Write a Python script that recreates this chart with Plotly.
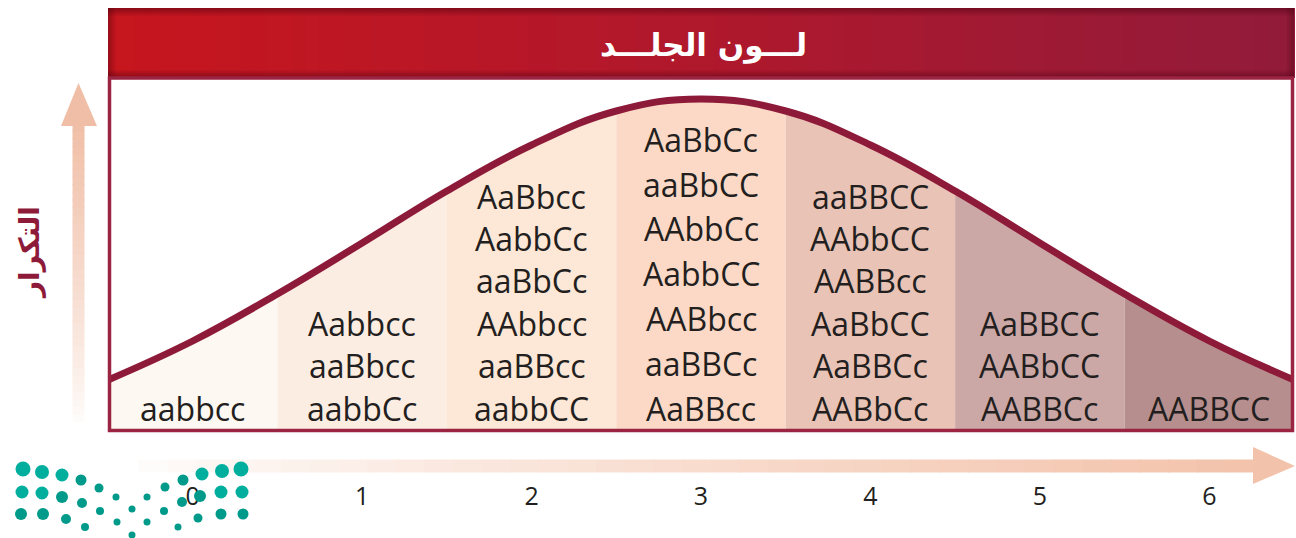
import plotly.graph_objects as go

# data
categories = [0, 1, 2, 3, 4, 5, 6]
genotypes = [
    ["aabbcc"],
    ["Aabbcc", "aaBbcc", "aabbCc"],
    ["AaBbcc", "AabbCc", "aaBbCc", "AAbbcc", "aaBBcc", "aabbCC"],
    ["AaBbCc", "aaBbCC", "AAbbCc", "AabbCC", "AABbcc", "aaBBCc", "AaBBcc"],
    ["aaBBCC", "AAbbCC", "AABBcc", "AaBbCC", "AaBBCc", "AABbCc"],
    ["AaBBCC", "AABbCC", "AABBCc"],
    ["AABBCC"],
]
curve_x = [-0.5, 0, 0.5, 1, 1.5, 2, 2.5, 3, 3.5, 4, 4.5, 5, 5.5, 6, 6.5]
curve_y = [52, 91, 138, 189, 241, 287, 321, 333, 321, 287, 241, 189, 138, 91, 52]
column_colors = ["#FDF8F1", "#FCEDE3", "#FDE7D6", "#FBD9C6", "#E9C3B5", "#CBA7A6", "#B68E8D"]
title_text = "لـــون الجلـــد"
ylabel_text = "التكرار"

W, H = 1296, 538
L, R, T, B = 108, 1294, 78, 432
MAROON = "#8E1A3A"


def px(x):
    return (x - L) / (R - L)


def py(y):
    return (B - y) / (B - T)


def mix(c1, c2, t):
    return "rgb(%d,%d,%d)" % tuple(round(a + (b - a) * t) for a, b in zip(c1, c2))


fig = go.Figure()

# column fills under the curve
for i in categories:
    seg_x = curve_x[2 * i:2 * i + 3]
    seg_y = curve_y[2 * i:2 * i + 3]
    fig.add_trace(go.Scatter(x=seg_x, y=seg_y, mode="lines", line=dict(width=0, shape="spline"),
                             fill="tozeroy", fillcolor=column_colors[i], hoverinfo="skip", showlegend=False))

fig.add_trace(go.Scatter(x=curve_x, y=curve_y, mode="lines",
                         line=dict(color=MAROON, width=7, shape="spline", smoothing=1.2),
                         hoverinfo="skip", showlegend=False))

# genotype labels
annotations = []
for i, col in enumerate(genotypes):
    gap = 44.8 if len(col) > 6 else 42.4
    for k, g in enumerate(reversed(col)):
        annotations.append(dict(x=i, y=24 + k * gap, xref="x", yref="y", text=g, showarrow=False,
                                font=dict(family="Open Sans", size=32, color="#231F20"),
                                xanchor="center", yanchor="middle"))

shapes = []

# header banner with gradient
n = 90
left_c, mid_c, right_c = (198, 22, 30), (176, 24, 44), (146, 27, 58)
for j in range(n):
    t = j / (n - 1)
    c = mix(left_c, mid_c, t * 2) if t < 0.5 else mix(mid_c, right_c, (t - 0.5) * 2)
    x0 = L + (R - L) * j / n
    x1 = L + (R - L) * (j + 1) / n + 1
    shapes.append(dict(type="rect", xref="paper", yref="paper", x0=px(x0), x1=px(x1),
                       y0=py(78), y1=py(8), fillcolor=c, line=dict(width=0), layer="above"))
for k in range(8):
    a = 0.45 * (1 - k / 8)
    shapes.append(dict(type="rect", xref="paper", yref="paper", x0=px(L), x1=px(R),
                       y0=py(8 + k + 1), y1=py(8 + k), fillcolor="rgba(70,0,15,%.2f)" % a,
                       line=dict(width=0), layer="above"))
    shapes.append(dict(type="rect", xref="paper", yref="paper", x0=px(L), x1=px(R),
                       y0=py(78 - k), y1=py(78 - k - 1), fillcolor="rgba(70,0,15,%.2f)" % a,
                       line=dict(width=0), layer="above"))
    shapes.append(dict(type="rect", xref="paper", yref="paper", x0=px(L + k), x1=px(L + k + 1),
                       y0=py(78), y1=py(8), fillcolor="rgba(70,0,15,%.2f)" % (a * 0.8),
                       line=dict(width=0), layer="above"))
    shapes.append(dict(type="rect", xref="paper", yref="paper", x0=px(R - k - 1), x1=px(R - k),
                       y0=py(78), y1=py(8), fillcolor="rgba(70,0,15,%.2f)" % (a * 0.8),
                       line=dict(width=0), layer="above"))

# box border
shapes.append(dict(type="rect", xref="paper", yref="paper", x0=px(L + 1.5), x1=px(R - 1.5),
                   y0=py(B - 1.5), y1=py(T), line=dict(color="#9B2443", width=3.5), layer="above"))

# y arrow (fading shaft + head)
arrow_c = (240, 190, 166)
n = 40
for j in range(n):
    y0 = 430 - (430 - 124) * j / n
    y1 = 430 - (430 - 124) * (j + 1) / n - 1
    shapes.append(dict(type="rect", xref="paper", yref="paper", x0=px(72.5), x1=px(84.5),
                       y0=py(y0), y1=py(y1), fillcolor=mix((255, 255, 255), arrow_c, (j / n) ** 0.8),
                       line=dict(width=0), layer="above"))
shapes.append(dict(type="path", xref="paper", yref="paper",
                   path="M %f %f L %f %f L %f %f Z" % (px(61), py(126), px(78.5), py(83), px(97), py(126)),
                   fillcolor="rgb(240,190,166)", line=dict(width=0), layer="above"))

# x arrow
arrow_c2 = (243, 194, 170)
for j in range(n):
    x0 = 110 + (1254 - 110) * j / n
    x1 = 110 + (1254 - 110) * (j + 1) / n + 1
    shapes.append(dict(type="rect", xref="paper", yref="paper", x0=px(x0), x1=px(x1),
                       y0=py(472.5), y1=py(459.5), fillcolor=mix((255, 255, 255), arrow_c2, (j / n) ** 0.8),
                       line=dict(width=0), layer="above"))
shapes.append(dict(type="path", xref="paper", yref="paper",
                   path="M %f %f L %f %f L %f %f Z" % (px(1253), py(447), px(1295), py(466), px(1253), py(484)),
                   fillcolor="rgb(243,194,170)", line=dict(width=0), layer="above"))

# logo dots
dots = [
    (23, 469, 7.5), (42, 472, 7), (62, 475, 6.5), (81, 480, 5.5), (99, 488, 4.5), (116, 497, 3.5),
    (165, 487, 4.5), (183, 480, 5.5), (202, 474, 6.5), (222, 471, 7), (241, 469, 7.5),
    (22, 492, 6.5), (42, 493, 6.5), (62, 497, 6), (82, 503, 5), (100, 511, 4), (117, 522, 3.5),
    (132, 509, 3.5), (147, 497, 3.5), (147, 522, 3.5), (164, 511, 4), (182, 502, 5), (200, 496, 6),
    (221, 492, 6.5), (242, 492, 6.5),
    (21, 514, 6), (43, 514, 6), (66, 519, 5), (85, 527, 4), (132, 535, 3.5), (178, 527, 3.5),
    (198, 518, 4.5), (221, 514, 5.5), (243, 514, 5.5),
]
for (cx, cy, r) in dots:
    col = "#00AE9E" if r >= 6.5 else "#009A8A"
    shapes.append(dict(type="circle", xref="paper", yref="paper", x0=px(cx - r), x1=px(cx + r),
                       y0=py(cy + r), y1=py(cy - r), fillcolor=col, line=dict(width=0), layer="above"))

annotations.append(dict(x=px(703), y=py(45), xref="paper", yref="paper", text="<b>%s</b>" % title_text,
                        showarrow=False, font=dict(family="DejaVu Sans", size=31, color="white"),
                        xanchor="center", yanchor="middle"))
annotations.append(dict(x=px(29), y=py(253), xref="paper", yref="paper", text="<b>%s</b>" % ylabel_text,
                        showarrow=False, textangle=-90, font=dict(family="DejaVu Sans", size=28, color=MAROON),
                        xanchor="center", yanchor="middle"))

fig.update_layout(
    width=W, height=H,
    margin=dict(l=L, r=W - R, t=T, b=H - B),
    paper_bgcolor="white", plot_bgcolor="white",
    shapes=shapes, annotations=annotations,
    xaxis=dict(range=[-0.5, 6.5], tickvals=categories, ticktext=[str(c) for c in categories],
               showgrid=False, zeroline=False, showline=False, ticks="",
               tickfont=dict(family="Open Sans", size=25, color="#231F20"), ticklabelstandoff=47),
    yaxis=dict(range=[0, B - T], showgrid=False, zeroline=False, showline=False, showticklabels=False),
)

fig.write_html("out.html", config={"displayModeBar": False},
               post_script="document.body.style.margin='0';")
